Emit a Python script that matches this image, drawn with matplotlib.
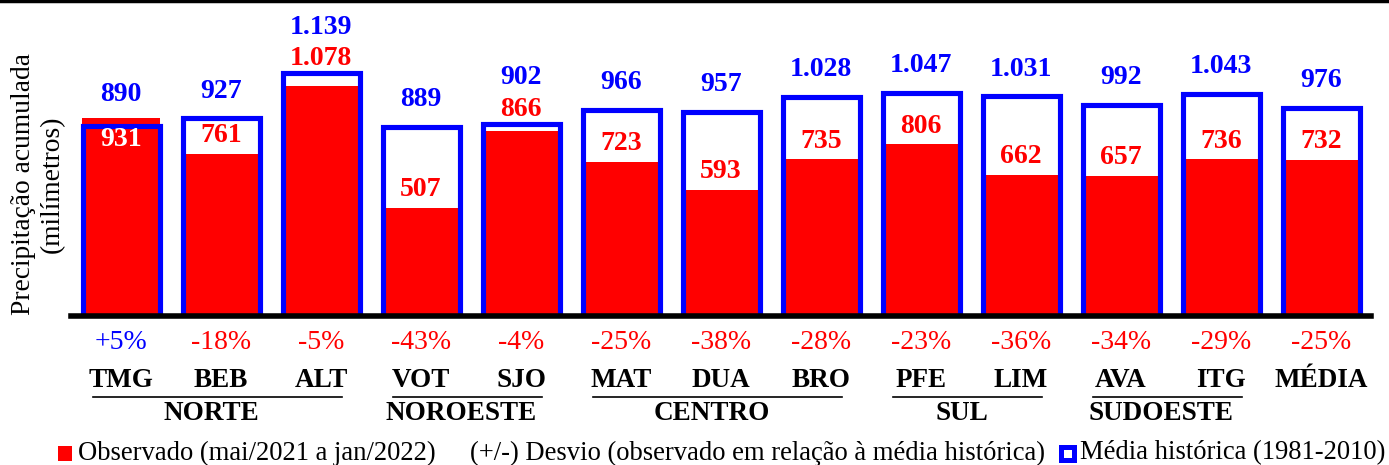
import matplotlib
matplotlib.use("Agg")
import matplotlib.pyplot as plt
import matplotlib.transforms as mtransforms
from matplotlib.patches import Rectangle
from matplotlib.lines import Line2D

stations = ["TMG", "BEB", "ALT", "VOT", "SJO", "MAT", "DUA", "BRO", "PFE", "LIM", "AVA", "ITG", "MÉDIA"]
media_hist = [890, 927, 1139, 889, 902, 966, 957, 1028, 1047, 1031, 992, 1043, 976]
observado = [931, 761, 1078, 507, 866, 723, 593, 735, 806, 662, 657, 736, 732]
desvio = [5, -18, -5, -43, -4, -25, -38, -28, -23, -36, -34, -29, -25]
groups = [("NORTE", 0, 2), ("NOROESTE", 3, 4), ("CENTRO", 5, 7), ("SUL", 8, 9), ("SUDOESTE", 10, 11)]

RED = "#FF0000"
BLUE = "#0000FF"
SERIF = "Liberation Serif"
FS_VAL = 20
FS_PCT = 20
FS_CAT = 19.5
FS_LEG = 19.2
FS_YL = 19.8

def fmt(v):
    return f"{v:,}".replace(",", ".")

W, H = 1389, 465
fig = plt.figure(figsize=(W / 100, H / 100), dpi=100)
ax_left, ax_right, ax_bottom_px = 71, 1371, 316
ax = fig.add_axes([ax_left / W, 1 - ax_bottom_px / H, (ax_right - ax_left) / W, ax_bottom_px / H])

x = list(range(len(stations)))
ax.bar(x, observado, width=0.78, color=RED, zorder=2)
ax.bar(x, media_hist, width=0.77, fill=False, edgecolor=BLUE, linewidth=3.7, zorder=3)

ax.set_xlim(-0.5, len(stations) - 0.5)
ax.set_ylim(0, 1483)
for s in ["left", "right", "top"]:
    ax.spines[s].set_visible(False)
ax.spines["bottom"].set_linewidth(4.0)
ax.spines["bottom"].set_zorder(5)
ax.set_xticks([])
ax.set_yticks([])

def vlabel(i, y, txt, color):
    ax.text(i, y, txt, color=color, ha="center", va="center",
            fontsize=FS_VAL, fontweight="bold", family=SERIF, zorder=6)

for i in x:
    m, o = media_hist[i], observado[i]
    if o > m:
        vlabel(i, o - 105, fmt(o), "white")
        vlabel(i, o + 108, fmt(m), BLUE)
    elif o / m > 0.9:
        vlabel(i, m + 68, fmt(o), RED)
        vlabel(i, m + 215, fmt(m), BLUE)
    else:
        vlabel(i, o + 85, fmt(o), RED)
        vlabel(i, m + 128, fmt(m), BLUE)

trans = mtransforms.blended_transform_factory(ax.transData, fig.transFigure)

for i in x:
    d = desvio[i]
    lab = f"+{d}%" if d > 0 else f"{d}%"
    ax.text(i, 1 - 342 / H, lab, transform=trans, color=BLUE if d > 0 else RED,
            ha="center", va="center", fontsize=FS_PCT, family=SERIF, clip_on=False)
    ax.text(i, 1 - 380 / H, stations[i], transform=trans, color="black",
            ha="center", va="center", fontsize=FS_CAT, fontweight="bold", family=SERIF, clip_on=False)

for name, a, b in groups:
    x0, x1 = a - 0.28, b + 0.21
    ax.add_line(Line2D([x0, x1], [1 - 397 / H] * 2, transform=trans, color="black",
                       linewidth=1.2, clip_on=False))
    ax.text((x0 + x1) / 2 - 0.06, 1 - 413 / H, name, transform=trans, color="black",
            ha="center", va="center", fontsize=FS_CAT, fontweight="bold", family=SERIF, clip_on=False)

fig.text(38 / W, 1 - 184 / H, "Precipitação acumulada\n(milímetros)", rotation=90,
         ha="center", va="center", multialignment="center", fontsize=FS_YL, family=SERIF)

# top border line
fig.add_artist(Line2D([0, 1], [1 - 1.5 / H] * 2, transform=fig.transFigure, color="black", linewidth=2.5))

# legend
ly = 1 - 453 / H
fig.add_artist(Rectangle((58 / W, ly - 7.5 / H), 14 / W, 15 / H, transform=fig.transFigure,
                         facecolor=RED, edgecolor="none"))
fig.text(78 / W, ly, "Observado (mai/2021 a jan/2022)", ha="left", va="center",
         fontsize=FS_LEG, family=SERIF)
fig.text(470 / W, ly, "(+/-) Desvio (observado em relação à média histórica)", ha="left", va="center",
         fontsize=FS_LEG, family=SERIF)
fig.add_artist(Rectangle((1060.5 / W, ly - 6.5 / H), 13 / W, 13 / H, transform=fig.transFigure,
                         facecolor="white", edgecolor=BLUE, linewidth=3.6))
fig.text(1080 / W, ly, "Média histórica (1981-2010)", ha="left", va="center",
         fontsize=FS_LEG, family=SERIF)

fig.savefig("out.png", dpi=100)
